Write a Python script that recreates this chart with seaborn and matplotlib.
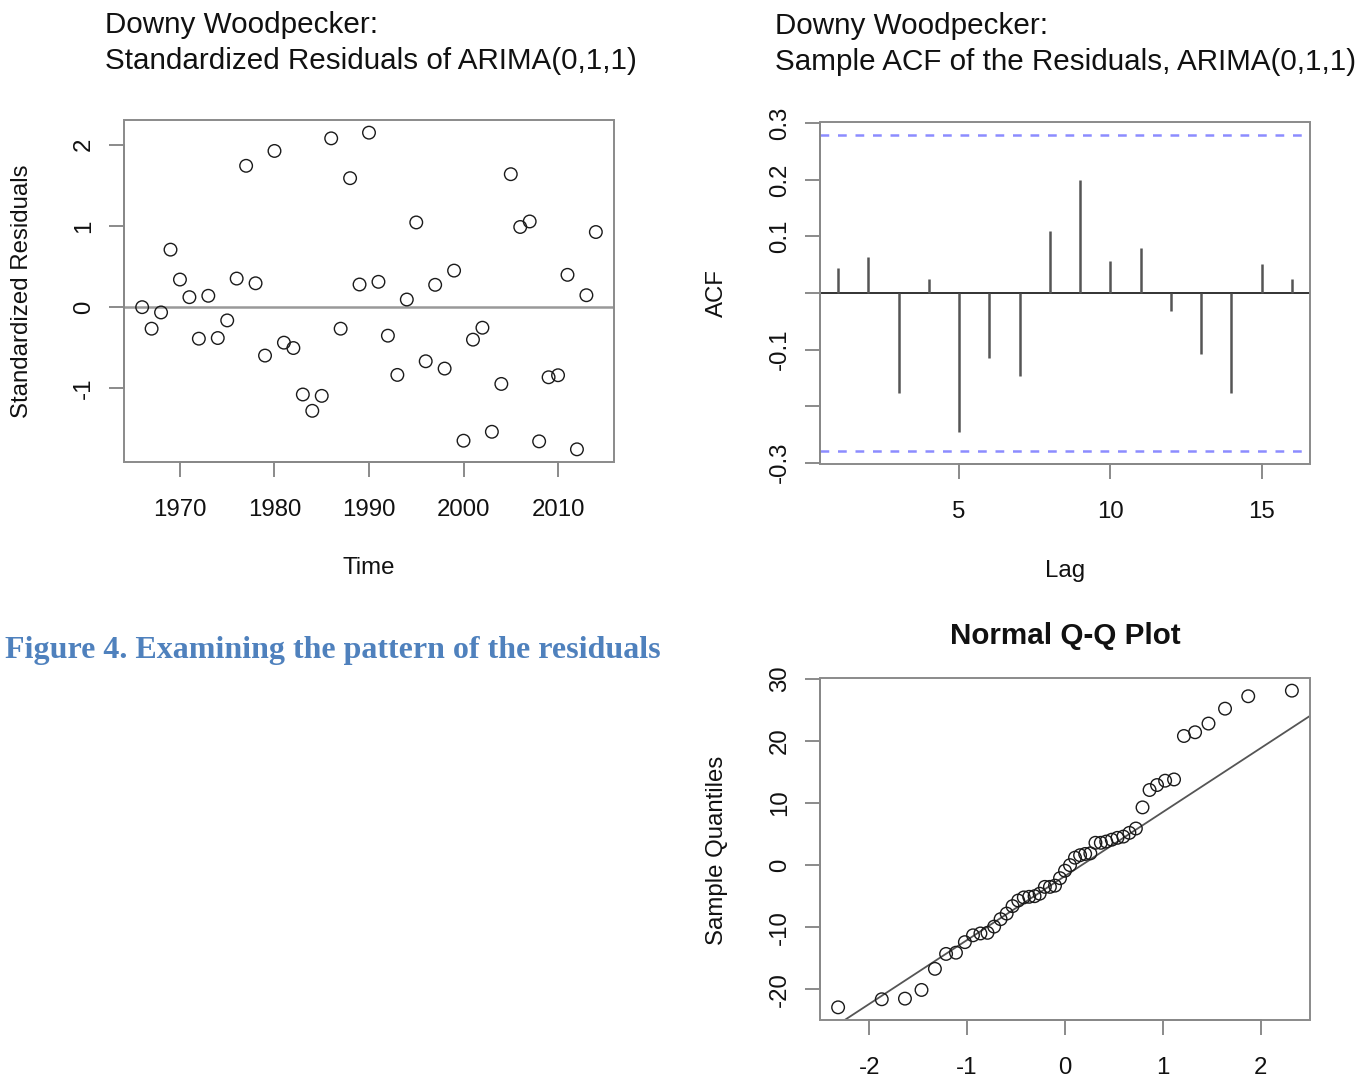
import numpy as np
import pandas as pd
import matplotlib
matplotlib.use("Agg")
import matplotlib.pyplot as plt
import matplotlib.patches as mpatches
import seaborn as sns

# ---------------- data ----------------
years = list(range(1966, 2015))
std_resid = [0.00, -0.265, -0.065, 0.708, 0.34, 0.123, -0.388, 0.14, -0.38, -0.163,
             0.352, 1.74, 0.294, -0.596, 1.923, -0.437, -0.503, -1.075, -1.276, -1.092,
             2.078, -0.265, 1.588, 0.279, 2.148, 0.312, -0.351, -0.834, 0.094, 1.043,
             -0.666, 0.275, -0.756, 0.45, -1.644, -0.40, -0.253, -1.534, -0.945, 1.637,
             0.987, 1.055, -1.652, -0.863, -0.838, 0.398, -1.75, 0.147, 0.925]

acf_lags = list(range(1, 17))
acf_vals = [0.044, 0.064, -0.176, 0.024, -0.245, -0.115, -0.147, 0.110,
            0.200, 0.057, 0.079, -0.031, -0.108, -0.176, 0.052, 0.024]
acf_ci = 0.28

qq_theoretical = [-2.318, -1.872, -1.635, -1.466, -1.329, -1.215, -1.114, -1.023,
                  -0.940, -0.864, -0.792, -0.724, -0.658, -0.596, -0.536, -0.478,
                  -0.421, -0.366, -0.311, -0.259, -0.206, -0.154, -0.102, -0.051,
                  0.0,
                  0.051, 0.102, 0.154, 0.206, 0.259, 0.311, 0.366, 0.421,
                  0.478, 0.536, 0.596, 0.658, 0.724, 0.792, 0.864, 0.940,
                  1.023, 1.114, 1.215, 1.329, 1.466, 1.635, 1.872, 2.318]
qq_sample = [-22.9, -21.6, -21.5, -20.1, -16.7, -14.3, -14.1, -12.4, -11.3, -11.0,
             -10.9, -9.9, -8.7, -7.8, -6.6, -5.7, -5.2, -5.1, -5.0, -4.6,
             -3.5, -3.5, -3.3, -2.1, -0.9, 0.0, 1.2, 1.6, 1.8, 1.9,
             3.6, 3.6, 3.8, 4.1, 4.4, 4.6, 5.2, 5.9, 9.3, 12.1,
             12.9, 13.6, 13.8, 20.8, 21.4, 22.8, 25.2, 27.2, 28.1]

resid_ticks = [1970, 1980, 1990, 2000, 2010]
resid_yticks = [-1, 0, 1, 2]
acf_xticks = [5, 10, 15]
acf_yticks = [-0.3, -0.2, -0.1, 0.0, 0.1, 0.2, 0.3]
acf_ylabels = ["-0.3", "", "-0.1", "", "0.1", "0.2", "0.3"]
qq_xticks = [-2, -1, 0, 1, 2]
qq_yticks = [-20, -10, 0, 10, 20, 30]

# ---------------- style ----------------
sns.set_theme(style="white")
plt.rcParams["font.family"] = ["Liberation Sans", "DejaVu Sans"]

W, H = 1372, 1078
fig = plt.figure(figsize=(W / 100, H / 100), dpi=100)

BASE = 17.3
TITLE = 21.3
BOX_C = "#8a8a8a"
AX_C = "#555555"


def px_axes(left, top, right, bottom):
    return fig.add_axes([left / W, 1 - bottom / H, (right - left) / W, (bottom - top) / H])


def r_style(ax, xb, yb):
    for s in ["top", "right"]:
        ax.spines[s].set_visible(False)
    for s in ["left", "bottom"]:
        ax.spines[s].set_color(AX_C)
        ax.spines[s].set_linewidth(1.3)
    ax.spines["bottom"].set_bounds(*xb)
    ax.spines["left"].set_bounds(*yb)
    ax.add_patch(mpatches.Rectangle((0, 0), 1, 1, transform=ax.transAxes, fill=False,
                                    edgecolor=BOX_C, lw=1.4, clip_on=False, zorder=5))
    ax.tick_params(axis="both", direction="out", length=10.5, width=1.2, color="#777777",
                   labelsize=BASE, labelcolor="#111111", left=True, bottom=True)
    ax.tick_params(axis="x", pad=16.3)
    ax.tick_params(axis="y", pad=10.5)
    for lab in ax.get_yticklabels():
        lab.set_rotation(90)
        lab.set_va("center")
        lab.set_ha("right")
    ax.grid(False)
    ax.set_facecolor("white")


# ---------- Plot 1: standardized residuals ----------
ax1 = px_axes(124, 120, 614, 462)
df1 = pd.DataFrame({"Time": years, "Resid": std_resid})
ax1.axhline(0, color="#999999", lw=1.8, zorder=1)
sns.scatterplot(data=df1, x="Time", y="Resid", ax=ax1, marker="o", s=82,
                facecolor="none", edgecolor="#1a1a1a", linewidth=1.0, zorder=3)
ax1.set_xlim(1964.08, 2015.92)
ax1.set_ylim(-1.906, 2.304)
ax1.set_xticks(resid_ticks)
ax1.set_xticklabels([str(t) for t in resid_ticks])
ax1.set_yticks(resid_yticks)
ax1.set_yticklabels([str(t) for t in resid_yticks])
r_style(ax1, (1970, 2010), (-1, 2))
ax1.set_xlabel("Time", fontsize=BASE, color="#111111", va="center")
ax1.xaxis.set_label_coords(0.5, (462 - 568) / 342)
ax1.set_ylabel("Standardized Residuals", fontsize=BASE, color="#111111", va="center")
ax1.yaxis.set_label_coords((22 - 124) / 490, 0.5)

fig.text(105 / W, 1 - 33 / H, "Downy Woodpecker:", fontsize=TITLE, ha="left",
         va="baseline", color="#111111")
fig.text(105 / W, 1 - 69 / H, "Standardized Residuals of ARIMA(0,1,1)", fontsize=TITLE,
         ha="left", va="baseline", color="#111111")

# ---------- Plot 2: ACF ----------
ax2 = px_axes(820, 122, 1310, 464)
ax2.vlines(acf_lags, 0, acf_vals, color="#555555", lw=1.8, zorder=3)
ax2.axhline(0, color="#222222", lw=1.3, zorder=2)
for c in (acf_ci, -acf_ci):
    ax2.axhline(c, color="#8c8cff", lw=1.8, ls=(0, (3.5, 3.5)), zorder=2)
ax2.set_xlim(0.4, 16.6)
ax2.set_ylim(-0.3024, 0.3024)
ax2.set_xticks(acf_xticks)
ax2.set_xticklabels([str(t) for t in acf_xticks])
ax2.set_yticks(acf_yticks)
ax2.set_yticklabels(acf_ylabels)
r_style(ax2, (5, 15), (-0.3, 0.3))
ax2.set_xlabel("Lag", fontsize=BASE, color="#111111", va="center")
ax2.xaxis.set_label_coords(0.5, (464 - 571) / 342)
ax2.set_ylabel("ACF", fontsize=BASE, color="#111111", va="center")
ax2.yaxis.set_label_coords((717 - 820) / 490, 0.5)

fig.text(775 / W, 1 - 34 / H, "Downy Woodpecker:", fontsize=TITLE, ha="left",
         va="baseline", color="#111111")
fig.text(775 / W, 1 - 70 / H, "Sample ACF of the Residuals, ARIMA(0,1,1)", fontsize=TITLE,
         ha="left", va="baseline", color="#111111")

# ---------- Plot 3: Normal Q-Q ----------
ax3 = px_axes(820, 678, 1310, 1020)
df3 = pd.DataFrame({"theo": qq_theoretical, "samp": qq_sample})
sns.scatterplot(data=df3, x="theo", y="samp", ax=ax3, marker="o", s=82,
                facecolor="none", edgecolor="#1a1a1a", linewidth=1.0, zorder=3)
q1, q3 = np.percentile(qq_sample, [25, 75])
z = 0.6745
slope = (q3 - q1) / (2 * z)
intercept = q1 + z * slope
ax3.axline((0, intercept), slope=slope, color="#555555", lw=1.3, zorder=2)
ax3.set_xlim(-2.503, 2.503)
ax3.set_ylim(-24.94, 30.14)
ax3.set_xticks(qq_xticks)
ax3.set_xticklabels([str(t) for t in qq_xticks])
ax3.set_yticks(qq_yticks)
ax3.set_yticklabels([str(t) for t in qq_yticks])
r_style(ax3, (-2, 2), (-20, 30))
ax3.set_xlabel("")
ax3.set_ylabel("Sample Quantiles", fontsize=BASE, color="#111111", va="center")
ax3.yaxis.set_label_coords((717 - 820) / 490, (1020 - 850) / 342)
ax3.set_title("Normal Q-Q Plot", fontsize=TITLE, fontweight="bold", color="#111111", pad=24.5)

# ---------- caption ----------
fig.text(5 / W, 1 - 658 / H, "Figure 4. Examining the pattern of the residuals",
         fontsize=23, fontweight="bold", color="#4f81bd", ha="left", va="baseline",
         family=["Liberation Serif", "DejaVu Serif"])

fig.savefig("out.png", dpi=100, facecolor="white")
